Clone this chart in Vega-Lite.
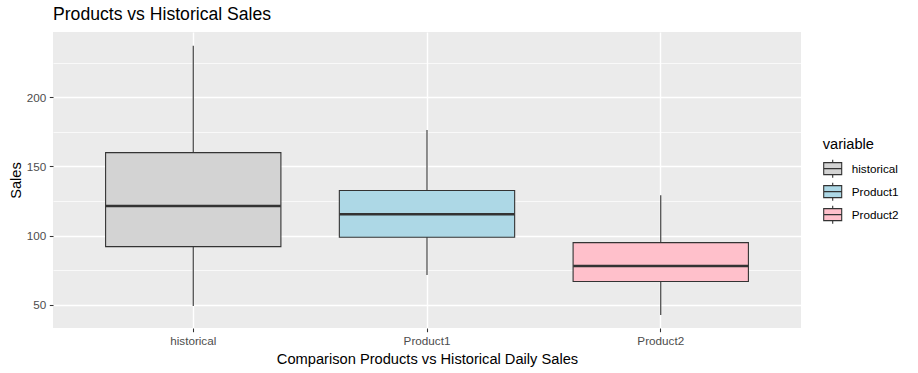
{
  "$schema": "https://vega.github.io/schema/vega-lite/v6.json",
  "autosize": "none",
  "padding": {"left": 53, "top": 32, "right": 118, "bottom": 45},
  "width": 748,
  "height": 296,
  "config": {
    "font": "Liberation Sans",
    "view": {"fill": "#EBEBEB", "stroke": null},
    "axis": {
      "domain": false,
      "tickColor": "#333333",
      "tickWidth": 1.07,
      "tickSize": 3.7,
      "labelColor": "#4D4D4D",
      "labelFontSize": 11.7,
      "labelFont": "Liberation Sans",
      "titleFont": "Liberation Sans",
      "titleFontSize": 14.67,
      "titleFontWeight": "normal",
      "titleColor": "#000000",
      "gridColor": "#FFFFFF",
      "gridOpacity": 1
    }
  },
  "title": {
    "text": "Products vs Historical Sales",
    "anchor": "start",
    "frame": "group",
    "fontSize": 17.6,
    "fontWeight": "normal",
    "font": "Liberation Sans",
    "color": "#000000",
    "offset": 8
  },
  "data": {
    "values": [
      {"variable": "historical", "lower": 49.0, "q1": 92.0, "median": 121.4, "q3": 160.0, "upper": 237.4},
      {"variable": "Product1", "lower": 71.4, "q1": 98.8, "median": 115.4, "q3": 132.6, "upper": 176.3},
      {"variable": "Product2", "lower": 42.5, "q1": 66.7, "median": 78.0, "q3": 94.9, "upper": 129.2}
    ]
  },
  "encoding": {
    "x": {
      "field": "variable",
      "type": "nominal",
      "sort": ["historical", "Product1", "Product2"],
      "scale": {"type": "band", "paddingInner": 0.25, "paddingOuter": 0.225},
      "axis": {
        "title": "Comparison Products vs Historical Daily Sales",
        "labelAngle": 0,
        "grid": true,
        "gridWidth": 1.4,
        "bandPosition": 0.5,
        "labelPadding": 4,
        "titlePadding": 3.7
      }
    }
  },
  "layer": [
    {
      "mark": {"type": "rule", "color": "#333333", "strokeWidth": 1.1},
      "encoding": {
        "y": {
          "field": "lower",
          "type": "quantitative",
          "scale": {"domain": [33.1, 247.3], "nice": false, "zero": false},
          "axis": {
            "title": "Sales",
            "values": [50, 75, 100, 125, 150, 175, 200, 225],
            "labelExpr": "datum.value % 50 === 0 ? datum.label : ''",
            "tickOpacity": {"condition": {"test": "datum.value % 50 === 0", "value": 1}, "value": 0},
            "gridWidth": {"condition": {"test": "datum.value % 50 === 0", "value": 1.4}, "value": 0.7},
            "labelPadding": 3.5,
            "titlePadding": 3
          }
        },
        "y2": {"field": "upper"}
      }
    },
    {
      "mark": {"type": "bar", "stroke": "#333333", "strokeWidth": 1.1},
      "encoding": {
        "y": {"field": "q1", "type": "quantitative"},
        "y2": {"field": "q3"},
        "color": {
          "field": "variable",
          "type": "nominal",
          "scale": {"domain": ["historical", "Product1", "Product2"], "range": ["#D3D3D3", "#ADD8E6", "#FFC0CB"]},
          "legend": {
            "title": "variable",
            "orient": "none",
            "legendX": 769.7,
            "legendY": 105,
            "titleFontSize": 14.67,
            "titleFontWeight": "normal",
            "titleColor": "#000000",
            "titlePadding": 7,
            "labelFontSize": 11.7,
            "labelColor": "#000000",
            "labelOffset": 9,
            "rowPadding": -1,
            "symbolType": "M-1,-0.667H1V0.667H-1ZM-1,0H1M0,-1V-0.667M0,0.667V1",
            "symbolSize": 324,
            "symbolStrokeColor": "#333333",
            "symbolStrokeWidth": 1.1,
            "symbolOpacity": 1
          }
        }
      }
    },
    {
      "mark": {"type": "tick", "color": "#333333", "opacity": 1, "thickness": 2.4, "size": 175, "orient": "horizontal"},
      "encoding": {
        "y": {"field": "median", "type": "quantitative"}
      }
    }
  ]
}
